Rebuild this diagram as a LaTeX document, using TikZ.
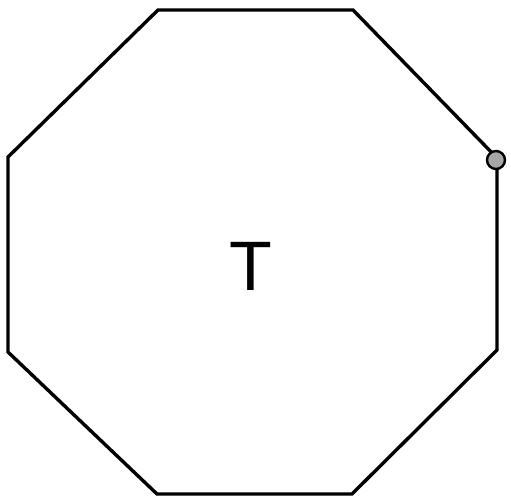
\documentclass[tikz,border=0pt]{standalone}
\usepackage{fontspec}
\setmainfont{Liberation Sans}
\tikzset{
  oct/.style={line width=3.4pt, line join=miter},
  dotmark/.style={circle, fill=gray!70, draw=black, line width=2.4pt, minimum size=18pt, inner sep=0pt},
  lbl/.style={font=\fontsize{70}{70}\selectfont, inner sep=0pt}
}
\begin{document}
\begin{tikzpicture}[x=1pt,y=-1pt]
\useasboundingbox (0,0) rectangle (511,501);
\coordinate (v1) at (158,10);
\coordinate (v2) at (353,10);
\coordinate (v3) at (497,158);
\coordinate (v4) at (497,350);
\coordinate (v5) at (352,494);
\coordinate (v6) at (157,494);
\coordinate (v7) at (8,352);
\coordinate (v8) at (8,157);
\draw[oct] (v1) -- (v2) -- (v3) -- (v4) -- (v5) -- (v6) -- (v7) -- (v8) -- cycle;
\node[dotmark] (dot) at (496,160) {};
\node[lbl] (t) at (251,266) {T};
\end{tikzpicture}
\end{document}
